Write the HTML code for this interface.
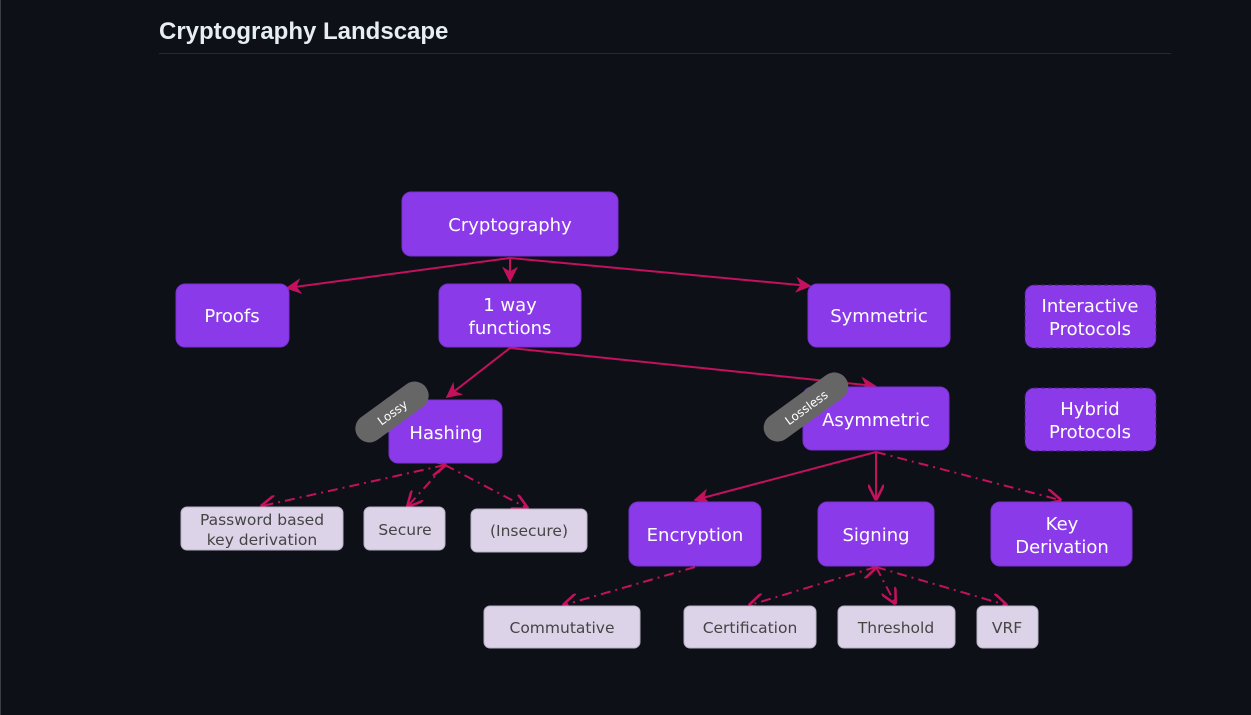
<!DOCTYPE html>
<html><head><meta charset="utf-8"><style>
html,body{margin:0;padding:0;background:#0d1017;}
body{width:1251px;height:715px;overflow:hidden;position:relative}
.bl{position:absolute;left:0;top:0;width:1px;height:715px;background:#3a3d44}
h1{position:absolute;left:159px;top:18px;margin:0;font:bold 24px "Liberation Sans",sans-serif;color:#e6edf3}
.hr{position:absolute;left:159px;top:53px;width:1012px;height:1px;background:#262a31}
svg{position:absolute;left:0;top:0}
text{font-family:"DejaVu Sans","Liberation Sans",sans-serif}
</style></head><body>
<div class="bl"></div>
<h1>Cryptography Landscape</h1><div class="hr"></div>
<svg width="1251" height="715" viewBox="0 0 1251 715">
<defs>
<marker id="a" viewBox="0 0 10 10" refX="9" refY="5" markerWidth="8" markerHeight="8" orient="auto-start-reverse"><path d="M0,0 L10,5 L0,10 L3,5 z" fill="#c4115e"/></marker>
<marker id="o" viewBox="0 0 10 10" refX="9" refY="5" markerWidth="8" markerHeight="8" orient="auto-start-reverse"><path d="M0,0 L10,5 L0,10" fill="none" stroke="#c4115e" stroke-width="1.6"/></marker>
</defs>
<g stroke="#c4115e" stroke-width="2" fill="none">
<line x1="510" y1="258" x2="287" y2="288" marker-end="url(#a)"/>
<line x1="510" y1="258" x2="510" y2="281" marker-end="url(#a)"/>
<line x1="510" y1="258" x2="810" y2="286" marker-end="url(#a)"/>
<line x1="510" y1="348" x2="447" y2="397" marker-end="url(#a)"/>
<line x1="510" y1="348" x2="875" y2="386" marker-end="url(#a)"/>
<line x1="876" y1="452" x2="695" y2="500" marker-end="url(#a)"/>
<line x1="876" y1="452" x2="876" y2="499" marker-end="url(#o)"/>
<g stroke-dasharray="10,5,2,5">
<line x1="876" y1="452" x2="1060" y2="500" marker-end="url(#o)"/>
<line x1="445" y1="465" x2="262" y2="506" marker-end="url(#o)" marker-start="url(#o)"/>
<line x1="445" y1="465" x2="408" y2="506" marker-end="url(#o)"/>
<line x1="445" y1="465" x2="527" y2="508" marker-end="url(#o)"/>
<line x1="695" y1="567" x2="564" y2="605" marker-end="url(#o)"/>
<line x1="876" y1="567" x2="750" y2="605" marker-end="url(#o)" marker-start="url(#o)"/>
<line x1="876" y1="567" x2="895" y2="603" marker-end="url(#o)"/>
<line x1="876" y1="567" x2="1006" y2="605" marker-end="url(#o)"/>
</g></g>
<g fill="#8b3ae9" stroke="#7a30d0">
<rect x="402" y="192" width="216" height="64" rx="9"/>
<rect x="176" y="284" width="113" height="63" rx="9"/>
<rect x="439" y="284" width="142" height="63" rx="9"/>
<rect x="808" y="284" width="142" height="63" rx="9"/>
<rect x="389" y="400" width="113" height="63" rx="9"/>
<rect x="803" y="387" width="146" height="63" rx="9"/>
<rect x="629" y="502" width="132" height="64" rx="9"/>
<rect x="818" y="502" width="116" height="64" rx="9"/>
<rect x="991" y="502" width="141" height="64" rx="9"/>
<rect x="1025" y="285" width="131" height="63" rx="9" stroke="#4a1c80" stroke-dasharray="4,3"/>
<rect x="1025" y="388" width="131" height="63" rx="9" stroke="#4a1c80" stroke-dasharray="4,3"/>
</g>
<g fill="#dcd3e8" stroke="#b9b0c6">
<rect x="181" y="507" width="162" height="43" rx="6"/>
<rect x="364" y="507" width="81" height="43" rx="6"/>
<rect x="471" y="509" width="116" height="43" rx="6"/>
<rect x="484" y="606" width="156" height="42" rx="6"/>
<rect x="684" y="606" width="132" height="42" rx="6"/>
<rect x="838" y="606" width="117" height="42" rx="6"/>
<rect x="977" y="606" width="61" height="42" rx="6"/>
</g>
<g fill="#fff" font-size="18" text-anchor="middle">
<text x="510" y="231">Cryptography</text>
<text x="232" y="322">Proofs</text>
<text x="510" y="311">1 way</text><text x="510" y="334">functions</text>
<text x="879" y="322">Symmetric</text>
<text x="1090" y="312">Interactive</text><text x="1090" y="335">Protocols</text>
<text x="446" y="439">Hashing</text>
<text x="876" y="426">Asymmetric</text>
<text x="1090" y="415">Hybrid</text><text x="1090" y="438">Protocols</text>
<text x="695" y="541">Encryption</text>
<text x="876" y="541">Signing</text>
<text x="1062" y="530">Key</text><text x="1062" y="553">Derivation</text>
</g>
<g fill="#444" font-size="15.5" text-anchor="middle">
<text x="262" y="525">Password based</text><text x="262" y="545">key derivation</text>
<text x="405" y="535">Secure</text>
<text x="529" y="536">(Insecure)</text>
<text x="562" y="633">Commutative</text>
<text x="750" y="633">Certification</text>
<text x="896" y="633">Threshold</text>
<text x="1007" y="633">VRF</text>
</g>
<g transform="translate(392,412) rotate(-36)"><rect x="-42" y="-14" width="84" height="28" rx="14" fill="#666"/><text x="0" y="5" fill="#fff" font-size="12" text-anchor="middle">Lossy</text></g>
<g transform="translate(806,407) rotate(-36)"><rect x="-49" y="-14" width="98" height="28" rx="14" fill="#666"/><text x="0" y="5" fill="#fff" font-size="12" text-anchor="middle">Lossless</text></g>
</svg>
</body></html>
